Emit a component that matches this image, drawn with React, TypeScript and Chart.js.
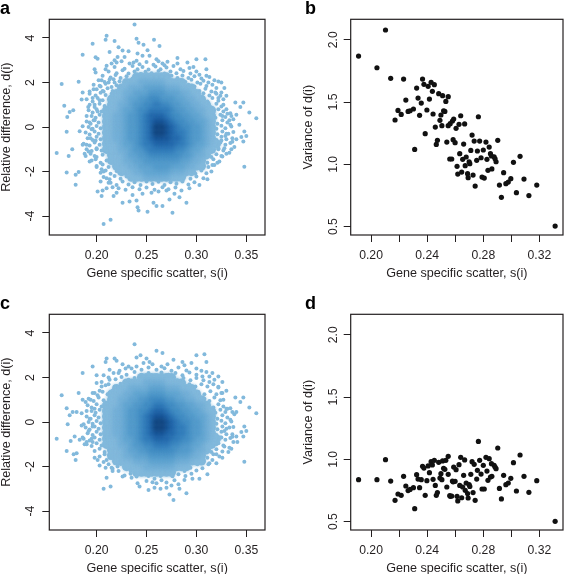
import React, { useEffect, useRef } from "react";
import { Chart, registerables } from "chart.js";

Chart.register(...registerables);

const FONT = '"Liberation Sans", Arial, sans-serif';
const INK = "#231f20";

const geneScatter = [
  0.1911,0.2042,0.2103,0.214,0.2232,0.2171,0.2192,0.2215,0.2248,0.2264,0.2278,0.2302,0.2311,0.2325,0.2335,0.2346,0.2358,0.2367,0.2377,0.2386,
  0.2398,0.2407,0.2416,0.2428,0.2437,0.2442,0.2451,0.2458,0.2465,0.2473,0.2482,0.2491,0.2498,0.2505,0.251,0.2517,0.2526,0.2533,0.254,0.255,
  0.255,0.2564,0.2561,0.2575,0.258,0.2589,0.2585,0.2599,0.2606,0.2613,0.2618,0.2627,0.2632,0.2639,0.2646,0.2653,0.266,0.2667,0.2671,0.2678,
  0.2688,0.2692,0.2699,0.2704,0.2711,0.272,0.2727,0.2735,0.2742,0.2753,0.2758,0.2765,0.2774,0.2784,0.2791,0.28,0.2807,0.2819,0.2826,0.2833,
  0.2842,0.2851,0.2861,0.2858,0.2877,0.2884,0.2891,0.2903,0.2915,0.2929,0.2945,0.2961,0.2978,0.2996,0.3015,0.3036,0.3062,0.309,0.3125,0.3181,0.3312,
];
const varianceB = [
  1.869,1.775,2.078,1.69,1.684,1.356,1.433,1.401,1.516,1.425,1.43,1.444,1.12,1.612,1.532,1.393,1.492,1.684,1.642,1.246,
  1.436,1.626,1.524,1.658,1.586,1.404,1.639,1.299,1.16,1.193,1.567,1.353,1.396,1.31,1.551,1.43,1.425,1.505,1.179,1.543,
  1.31,1.326,1.043,1.043,1.348,1.364,1.198,1.174,1.289,0.984,0.922,1.321,1.086,1.39,0.938,1.04,1.163,1.324,0.989,1.059,
  0.925,0.893,1.021,1.005,1.112,1.235,0.914,1.187,0.826,1.032,1.107,1.382,1.187,1.053,0.898,1.115,0.89,1.179,1.04,0.952,
  1.139,1.086,0.963,1.067,1.061,1.045,1.021,1.193,0.834,0.735,0.933,0.845,0.858,0.885,1.016,0.773,1.064,0.882,0.749,0.834,0.505,
];
const varianceD = [
  0.837,0.837,0.997,0.826,0.864,0.671,0.722,0.711,0.786,0.749,0.759,0.773,0.604,0.877,0.842,0.773,0.837,0.944,0.93,0.711,
  0.829,0.947,0.893,0.981,0.955,0.84,0.992,0.791,0.711,0.733,0.976,0.85,0.885,0.837,0.987,0.928,0.92,0.992,0.778,1.024,
  0.88,0.703,0.709,0.705,0.826,0.938,0.82,0.824,0.917,0.703,0.666,0.957,0.791,1.016,0.692,0.778,0.872,0.995,0.751,0.81,
  0.725,0.69,0.797,0.783,0.88,0.981,0.733,0.96,0.671,0.842,0.912,1.144,0.992,0.882,0.762,0.952,0.762,1.016,0.906,0.832,
  1.005,0.858,0.864,0.965,0.952,0.938,0.925,1.091,0.767,0.682,0.872,0.797,0.81,0.848,0.973,0.746,1.035,0.864,0.735,0.829,0.503,
];

const dotsA = [
  [.238,4.61],[.21,4.1],[.209,3.92],[.218,3.86],[.196,3.74],[.24,3.97],[.242,3.79],[.2575,3.92],[.263,3.64],[.247,3.7],[.186,3.25],[.222,3.59],[.213,3.37],[.226,3.44],[.232,3.41],[.199,3.14],[.201,3.07],[.221,3.15],[.228,3.15],[.218,3],[.215,2.85],[.21,2.75],[.209,2.6],[.198,2.6],[.199,2.45],[.22,2.9],[.237,2.9],[.241,3.3],[.246,3.2],[.251,3.45],[.253,3.2],[.26,3.05],[.266,2.85],[.271,2.93],[.281,3.1],[.281,2.85],[.291,2.9],[.3,3.05],[.309,3.05],[.297,2.7],[.31,2.6],[.293,2.65],[.313,2.25],[.318,2.1],[.322,2.05],[.328,1.75],[.325,2],[.303,2.35],[.165,1.93],[.182,2.04],[.186,1.55],[.193,1.6],[.197,1.7],[.203,1.85],[.207,1.6],[.212,2],[.217,2.15],[.205,2.1],[.215,1.5],[.185,1.24],[.1676,.96],[.1766,.75],[.173,.67],[.1706,.45],[.17,-.21],[.1916,.9],[.183,-.19],[.186,.03],[.1756,-1],[.172,-1.3],[.16,-1.17],[.182,-2.02],[.179,-2.14],[.17,-2.04],[.179,-2.59],
  [.19,.5],[.193,.2],[.195,-.1],[.197,.3],[.194,-.5],[.19,-.8],[.192,-1.1],[.188,-1.2],[.186,-.8],[.195,-1.5],[.198,-1.3],[.2,-1],[.199,-.6],[.201,.7],[.198,1],[.196,1.3],[.203,1.2],[.2,-1.8],[.205,-1.9],[.207,-2],[.204,-2.45],[.21,-2.3],[.212,-2.5],[.201,-2.9],[.206,-2.85],[.21,-2.75],[.205,-3.1],[.216,-2.7],[.22,-2.95],[.217,-3.1],[.226,-3.4],[.233,-3.35],[.24,-3.3],[.241,-3.6],[.242,-3.75],[.251,-3.8],[.257,-3.4],[.26,-3.55],[.266,-3.55],[.273,-3.25],[.276,-3.85],[.283,-3.15],[.29,-3.4],[.207,-4.36],[.214,-4.17],[.236,-3.05],[.246,-3],[.255,-2.95],[.262,-2.9],[.27,-2.85],[.278,-3],[.285,-2.85],[.293,-2.75],[.303,-2.6],[.311,-2.35],[.316,-1.7],[.315,-2],[.321,-1.6],[.325,-1.3],[.33,-1.2],[.328,-.95],[.335,-1],[.338,-.9],[.34,-.55],[.336,-.5],[.332,-.3],[.334,.1],[.337,.35],[.34,.55],[.335,.5],[.339,1.1],[.347,1.1],[.344,.9],[.353,.65],[.36,.4],[.348,-.2],[.35,-.4],[.345,-.45],[.347,-.65],[.343,.1],[.348,-1.78],[.333,.3],[.327,1],[.33,.8],[.326,.5],[.329,-.4],[.325,-.6],[.322,1.3],[.325,1.55],[.32,1.75],[.33,1.4],[.322,-1],
];
const rimA = [
  [.225,2.95],[.233,2.85],[.24,2.98],[.243,2.82],[.25,2.92],[.257,2.8],[.262,2.95],[.268,2.78],
  [.218,2.7],[.228,2.62],[.236,2.74],[.241,2.6],[.246,2.7],[.252,2.58],[.259,2.72],[.264,2.6],[.27,2.68],[.277,2.74],[.284,2.6],
  [.212,2.5],[.22,2.42],[.226,2.55],[.232,2.4],[.238,2.5],[.244,2.38],[.249,2.48],[.255,2.42],[.262,2.52],[.268,2.4],[.274,2.5],[.28,2.42],[.287,2.52],[.294,2.4],[.3,2.5],
  [.206,2.3],[.214,2.22],[.219,2.34],[.224,2.2],[.23,2.28],[.236,2.18],[.275,2.3],[.281,2.2],[.286,2.32],[.292,2.2],[.298,2.28],[.305,2.18],[.31,2.3],
  [.202,2.1],[.208,2.02],[.213,2.14],[.218,2],[.223,2.06],[.283,2.1],[.289,2.02],[.295,2.12],[.301,2],[.307,2.08],[.312,2],
  [.197,1.9],[.204,1.82],[.209,1.94],[.215,1.8],[.22,1.88],[.292,1.9],[.298,1.82],[.304,1.94],[.31,1.84],[.316,1.9],
  [.2,1.7],[.206,1.62],[.211,1.74],[.216,1.62],[.297,1.7],[.303,1.62],[.309,1.72],[.315,1.6],[.32,1.5],
  [.193,1.5],[.199,1.42],[.204,1.54],[.209,1.44],[.3,1.45],[.307,1.52],[.313,1.42],[.319,1.55],[.324,1.4],
  [.19,1.25],[.196,1.15],[.201,1.3],[.206,1.2],[.305,1.25],[.311,1.15],[.316,1.3],[.322,1.18],[.327,1.25],
  [.193,1],[.198,.9],[.203,1.05],[.208,.95],[.309,1],[.314,.9],[.32,1.05],[.325,.92],
  [.192,.75],[.196,.65],[.2,.8],[.205,.7],[.312,.75],[.317,.65],[.322,.8],[.327,.7],[.331,.6],
  [.195,.5],[.199,.42],[.203,.55],[.314,.5],[.319,.42],[.324,.55],[.329,.45],[.334,.62],
  [.19,.25],[.194,.15],[.198,.3],[.202,.2],[.316,.25],[.321,.15],[.326,.3],[.331,.2],
  [.192,0],[.196,-.08],[.2,.05],[.204,-.05],[.316,0],[.32,-.08],[.325,.06],[.329,-.05],[.335,.02],
  [.189,-.25],[.193,-.33],[.198,-.2],[.202,-.3],[.316,-.25],[.321,-.32],[.326,-.2],[.33,-.3],[.337,-.22],
  [.191,-.5],[.196,-.58],[.2,-.44],[.204,-.55],[.315,-.5],[.32,-.58],[.325,-.44],[.33,-.55],[.336,-.66],
  [.187,-.75],[.193,-.83],[.198,-.7],[.203,-.8],[.314,-.75],[.319,-.83],[.324,-.7],[.329,-.8],[.334,-.72],
  [.19,-1],[.195,-1.08],[.2,-.95],[.205,-1.05],[.312,-1],[.317,-1.08],[.322,-.95],[.327,-1.05],[.333,-1.15],
  [.189,-1.3],[.194,-1.2],[.2,-1.35],[.206,-1.25],[.309,-1.25],[.315,-1.35],[.32,-1.22],[.326,-1.32],
  [.193,-1.55],[.199,-1.45],[.204,-1.6],[.21,-1.5],[.305,-1.5],[.311,-1.6],[.317,-1.45],[.323,-1.55],
  [.2,-1.75],[.206,-1.68],[.212,-1.8],[.3,-1.75],[.306,-1.68],[.312,-1.8],[.318,-1.7],
  [.204,-2.05],[.209,-1.95],[.214,-2.1],[.22,-1.98],[.293,-2],[.299,-2.1],[.305,-1.95],[.31,-2.08],
  [.207,-2.25],[.213,-2.35],[.218,-2.2],[.224,-2.32],[.23,-2.22],[.282,-2.3],[.288,-2.2],[.294,-2.32],[.3,-2.22],[.307,-2.3],
  [.214,-2.5],[.22,-2.6],[.226,-2.45],[.232,-2.58],[.238,-2.48],[.244,-2.6],[.25,-2.45],[.256,-2.56],[.262,-2.46],[.268,-2.6],[.274,-2.48],[.28,-2.55],[.286,-2.45],[.292,-2.58],[.298,-2.48],
  [.222,-2.75],[.229,-2.82],[.236,-2.7],[.243,-2.8],[.25,-2.72],[.258,-2.82],[.266,-2.7],[.272,-2.8],[.279,-2.72],
];
const dotsC = [
  [.238,3.5],[.26,3.2],[.266,3.1],[.244,3],[.24,2.9],[.25,2.85],[.253,2.7],[.247,2.65],[.256,2.6],[.218,2.85],[.21,2.85],[.209,2.7],[.22,2.75],[.196,2.5],[.186,2.2],[.2,2.1],[.226,2.6],[.232,2.5],[.229,2.4],[.24,2.5],[.265,2.5],[.277,2.8],[.271,2.6],[.286,2.7],[.3,3],[.308,3.05],[.295,2.65],[.31,2.7],[.288,2.55],[.3,2.4],[.305,2.3],[.31,2.25],[.316,2.2],[.322,2.05],[.326,1.8],[.318,1.9],[.313,2.05],[.213,2.35],[.217,2.2],[.223,2.3],[.207,2.1],[.205,1.8],[.2,1.75],[.198,1.3],[.209,1.65],[.213,1.9],[.203,1.4],[.165,1.2],[.17,.62],[.176,.45],[.18,.45],[.173,.3],[.182,1.3],[.186,1],[.189,.9],[.194,1],[.185,.4],[.171,-.1],[.187,-.1],[.185,-.15],[.19,.5],[.193,.15],[.196,-.2],[.198,.6],[.192,-.4],[.19,-.9],[.186,-.7],[.183,-.8],[.188,-1],[.195,-.75],[.16,-.75],[.174,-.85],[.178,-.65],[.196,-.9],[.17,-1.3],[.18,-1.4],[.177,-1.45],[.179,-1.7],[.198,-1.6],[.201,-1.7],[.203,-1.95],[.21,-1.7],[.209,-2.05],[.215,-2.05],[.221,-2],[.216,-2.2],[.226,-2.45],[.235,-2.5],[.242,-2.3],[.241,-2.75],[.243,-2.9],[.252,-3.05],[.258,-2.95],[.258,-2.55],[.26,-2.75],[.264,-3],[.27,-2.95],[.273,-3.25],[.277,-3.5],[.275,-2.85],[.282,-2.8],[.283,-3],[.29,-3.2],[.288,-2.6],[.296,-2.55],[.303,-2.55],[.311,-2.35],[.312,-1.9],[.316,-1.7],[.32,-1.85],[.326,-1.6],[.32,-1.45],[.332,-1.35],[.328,-1.1],[.335,-1.2],[.337,-.9],[.341,-.9],[.34,-.65],[.336,-.55],[.333,-.25],[.334,.1],[.338,.35],[.34,.45],[.336,.45],[.339,1.1],[.347,1.1],[.344,.9],[.353,.65],[.36,.4],[.348,-.2],[.35,-.4],[.345,-.45],[.347,-.65],[.348,-1.78],[.33,.6],[.327,1],[.325,1.3],[.33,1.4],[.322,1.55],[.328,-.4],[.325,-.7],[.32,-1],[.207,-3],[.214,-2.9],[.21,-2.5],
];
const rimC = [
  [.235,2.4],[.245,2.35],[.252,2.45],[.26,2.35],[.268,2.42],[.275,2.3],[.282,2.45],[.29,2.32],
  [.222,2.2],[.23,2.12],[.238,2.25],[.245,2.12],[.252,2.2],[.258,2.1],[.265,2.22],[.272,2.12],[.279,2.2],[.286,2.1],[.293,2.22],[.3,2.12],[.306,2.05],
  [.212,2],[.219,1.92],[.225,2.02],[.232,1.9],[.238,1.98],[.244,1.88],[.275,1.95],[.281,1.88],[.287,1.98],[.294,1.88],[.3,1.98],[.307,1.88],[.313,1.8],
  [.205,1.6],[.212,1.7],[.218,1.6],[.224,1.72],[.23,1.6],[.293,1.7],[.299,1.6],[.305,1.7],[.311,1.6],[.317,1.7],[.322,1.58],
  [.196,1.3],[.201,1.2],[.206,1.36],[.211,1.25],[.216,1.4],[.302,1.35],[.308,1.25],[.314,1.38],[.32,1.25],[.326,1.3],
  [.192,1.05],[.197,.95],[.202,1.1],[.207,.98],[.308,1.05],[.313,.95],[.318,1.1],[.324,.98],
  [.191,.75],[.195,.65],[.2,.8],[.205,.7],[.312,.75],[.317,.65],[.322,.8],[.327,.7],[.331,.6],
  [.195,.5],[.199,.42],[.203,.55],[.314,.5],[.319,.42],[.324,.55],[.329,.45],[.334,.62],
  [.19,.25],[.194,.15],[.198,.3],[.202,.2],[.316,.25],[.321,.15],[.326,.3],[.331,.2],
  [.192,0],[.196,-.08],[.2,.05],[.204,-.05],[.316,0],[.32,-.08],[.325,.06],[.329,-.05],[.335,.02],
  [.189,-.25],[.193,-.33],[.198,-.2],[.202,-.3],[.316,-.25],[.321,-.32],[.326,-.2],[.33,-.3],[.337,-.22],
  [.191,-.5],[.196,-.58],[.2,-.44],[.204,-.55],[.315,-.5],[.32,-.58],[.325,-.44],[.33,-.55],[.336,-.66],
  [.187,-.75],[.193,-.83],[.198,-.7],[.203,-.8],[.314,-.75],[.319,-.83],[.324,-.7],[.329,-.8],[.334,-.72],
  [.19,-1],[.195,-1.08],[.2,-.95],[.205,-1.05],[.312,-1],[.317,-1.08],[.322,-.95],[.327,-1.05],[.333,-1.15],
  [.198,-1.3],[.203,-1.2],[.208,-1.35],[.213,-1.25],[.309,-1.25],[.315,-1.35],[.32,-1.22],[.326,-1.32],
  [.203,-1.55],[.208,-1.45],[.213,-1.6],[.218,-1.5],[.305,-1.5],[.311,-1.6],[.317,-1.45],[.323,-1.55],
  [.207,-1.8],[.212,-1.9],[.218,-1.75],[.224,-1.88],[.295,-1.8],[.301,-1.9],[.307,-1.78],[.313,-1.85],
  [.216,-2.1],[.222,-2.2],[.228,-2.05],[.234,-2.18],[.24,-2.08],[.282,-2.1],[.288,-2.2],[.294,-2.05],[.3,-2.18],[.306,-2.08],
  [.228,-2.4],[.234,-2.32],[.24,-2.45],[.246,-2.3],[.252,-2.42],[.258,-2.3],[.264,-2.42],[.27,-2.32],[.276,-2.44],[.282,-2.35],[.289,-2.42],[.295,-2.32],
  [.25,-2.65],[.256,-2.7],[.265,-2.62],[.27,-2.72],[.278,-2.62],
];

// Density: columns are s(i) from 0.190 in steps of 0.005.
const densityColumns = [.19,.195,.2,.205,.21,.215,.22,.225,.23,.235,.24,.245,.25,.255,.26,.265,.27,.275,.28,.285,.29,.295,.3,.305,.31,.315,.32,.325,.33,.335];
const densityRowsA = [2.25,2,1.75,1.5,1.25,1,.75,.5,.25,0,-.25,-.5,-.75,-1,-1.25,-1.5,-1.75,-2,-2.25];
const densityA = [
  "000000000011111110000000000000",
  "000000001112222211110000000000",
  "000000011222333322211100000000",
  "000000112233344433322110000000",
  "000001112334455444332211000000",
  "000001122344556554433221100000",
  "000011123345566665443322110000",
  "000011223445677765544332110000",
  "000011223445678876554433210000",
  "000011223445679987655443210000",
  "000011223445679987665443210000",
  "000011223445678887765443210000",
  "000011123345667777665433211000",
  "000011122344566666554332110000",
  "000001112334455555544322100000",
  "000001112233444444433221000000",
  "000000111223334443332211000000",
  "000000011122333332221100000000",
  "000000000111222221110000000000",
];
const densityRowsC = [2,1.75,1.5,1.25,1,.75,.5,.25,0,-.25,-.5,-.75,-1,-1.25,-1.5,-1.75,-2,-2.25];
const densityC = [
  "000000000001111111000000000000",
  "000000001111222211110000000000",
  "000000111222233322211100000000",
  "000001112233344433322110000000",
  "000001122334455544332211000000",
  "000011123344556655443322100000",
  "000011223445567765544332110000",
  "000011223445678876554433210000",
  "000011223445679987655443210000",
  "000011223445679987665443210000",
  "000011223445678877665443210000",
  "000011123345667776655433211000",
  "000011122344556665544332110000",
  "000001112334455555444322100000",
  "000001112233344444333221000000",
  "000000111122233333222111000000",
  "000000001111222222111000000000",
  "000000000011111111000000000000",
];
const densityPalette = ["#ffffff","#82b9dc","#72afd7","#60a4d1","#4f98ca","#3d8ac2","#2c78b8","#1d64aa","#115197","#0a3e7b"];

const xLabelsRight = [0.2, 0.24, 0.28, 0.32];
const yTicksRight = [0.5, 1, 1.5, 2];

const framePlugin = {
  id: "frame",
  afterDraw(chart: any) {
    const { ctx, chartArea: a } = chart;
    ctx.save();
    ctx.strokeStyle = INK;
    ctx.lineWidth = 1.2;
    ctx.strokeRect(a.left, a.top, a.right - a.left, a.bottom - a.top);
    ctx.restore();
  },
};
const blurPlugin = {
  id: "densityBlur",
  beforeDatasetDraw(chart: any, args: any) {
    if (chart.data.datasets[args.index].label === "density") {
      chart.ctx.save();
      chart.ctx.filter = "blur(2px)";
    }
  },
  afterDatasetDraw(chart: any, args: any) {
    if (chart.data.datasets[args.index].label === "density") chart.ctx.restore();
  },
};

function densityCells(rows: number[], matrix: string[]) {
  const cells: { x: number; y: number; level: number }[] = [];
  matrix.forEach((line, r) => {
    line.split("").forEach((c, i) => {
      const level = Number(c);
      if (level > 0) cells.push({ x: densityColumns[i], y: rows[r], level });
    });
  });
  return cells.sort((p, q) => p.level - q.level);
}

function baseAxis(min: number, max: number, step: number, title: string, vertical: boolean, size: number, tickPad: number, titlePad: any, labels?: number[]) {
  return {
    type: "linear",
    min,
    max,
    afterFit(scale: any) {
      if (vertical) scale.width = size;
      else scale.height = size;
    },
    border: { display: false },
    grid: { display: true, drawOnChartArea: false, drawTicks: true, tickLength: 7, tickColor: INK, tickWidth: 1 },
    title: { display: true, text: title, color: INK, font: { family: FONT, size: 12.6, lineHeight: 1 }, padding: titlePad },
    ticks: {
      stepSize: step,
      includeBounds: false,
      autoSkip: false,
      color: INK,
      font: { family: FONT, size: 12.2 },
      padding: tickPad,
      minRotation: vertical ? 90 : 0,
      maxRotation: vertical ? 90 : 0,
      crossAlign: vertical ? "center" : "near",
      callback(value: number) {
        const list = labels;
        if (list && !list.some((v) => Math.abs(v - value) < 1e-6)) return "";
        if (vertical && step === 2) return String(Math.round(value));
        if (vertical) return value.toFixed(1);
        return value.toFixed(2);
      },
    },
  };
}

function Panel({ left, top, letter, letterLeft, build }: any) {
  const ref = useRef<HTMLCanvasElement>(null);
  useEffect(() => {
    const chart = new Chart(ref.current as HTMLCanvasElement, build());
    return () => chart.destroy();
  }, []);
  return (
    <>
      <canvas ref={ref} width={283} height={287} style={{ position: "absolute", left, top, width: 283, height: 287 }} />
      <div style={{ position: "absolute", left: letterLeft, top: top + (top ? 6.5 : -1), font: `bold 18px/18px ${FONT}`, color: "#000" }}>{letter}</div>
    </>
  );
}

function densityConfig(dots: number[][], rim: number[][], rows: number[], matrix: string[], topPad: number, xSize: number, xTitlePad: number) {
  const cells = densityCells(rows, matrix);
  return {
    type: "scatter",
    plugins: [blurPlugin, framePlugin],
    data: {
      datasets: [
        {
          label: "density",
          data: cells,
          pointStyle: "rect",
          pointRadius: 5,
          pointBorderWidth: 0,
          pointBackgroundColor: cells.map((c) => densityPalette[c.level]),
          order: 1,
        },
        {
          label: "genes",
          data: [...dots, ...rim].map(([x, y]) => ({ x, y })),
          pointRadius: 2,
          pointBorderWidth: 0,
          pointBackgroundColor: densityPalette[1],
          order: 2,
        },
        {
          label: "densityBase",
          data: cells,
          pointRadius: 4.6,
          pointBorderWidth: 0,
          pointBackgroundColor: densityPalette[1],
          order: 3,
        },
      ],
    },
    options: {
      responsive: false,
      animation: false,
      layout: { padding: { top: topPad, right: 18, bottom: 0, left: 0 } },
      plugins: { legend: { display: false }, tooltip: { enabled: false } },
      scales: {
        x: baseAxis(0.1526, 0.3687, 0.05, "Gene specific scatter, s(i)", false, xSize, 6, { top: 0, bottom: xTitlePad }),
        y: baseAxis(-4.85, 4.84, 2, "Relative difference, d(i)", true, 49.3, 6, { top: 0.5, bottom: 0 }),
      },
    },
  };
}

function varianceConfig(values: number[], topPad: number, xSize: number, xTitlePad: number) {
  return {
    type: "scatter",
    plugins: [framePlugin],
    data: {
      datasets: [
        {
          label: "variance",
          data: geneScatter.map((x, i) => ({ x, y: values[i] })),
          pointRadius: 2.6,
          pointBorderWidth: 0,
          pointBackgroundColor: "#111111",
        },
      ],
    },
    options: {
      responsive: false,
      animation: false,
      layout: { padding: { top: topPad, right: 0.7, bottom: 0, left: 0 } },
      plugins: { legend: { display: false }, tooltip: { enabled: false } },
      scales: {
        x: baseAxis(0.1855, 0.3368, 0.02, "Gene specific scatter, s(i)", false, xSize, 6, { top: 0, bottom: xTitlePad }, xLabelsRight),
        y: baseAxis(0.433, 2.164, 0.5, "Variance of d(i)", true, 66.7, 2, { top: 18, bottom: 0 }, yTicksRight),
      },
    },
  };
}

export default function App() {
  return (
    <div style={{ position: "absolute", left: 0, top: 0, width: 567, height: 574, background: "#fff", overflow: "hidden" }}>
      <Panel left={0} top={0} letter="a" letterLeft={0} build={() => densityConfig(dotsA, rimA, densityRowsA, densityA, 19.3, 52, 7)} />
      <Panel left={284} top={0} letter="b" letterLeft={305} build={() => varianceConfig(varianceB, 19.3, 52, 7)} />
      <Panel left={0} top={287} letter="c" letterLeft={0} build={() => densityConfig(dotsC, rimC, densityRowsC, densityC, 27.3, 44, -1)} />
      <Panel left={284} top={287} letter="d" letterLeft={305} build={() => varianceConfig(varianceD, 27.3, 44, -1)} />
    </div>
  );
}
